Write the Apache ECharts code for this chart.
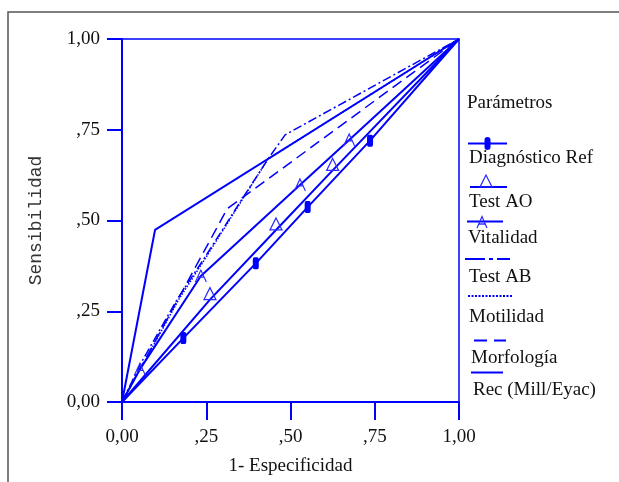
<!DOCTYPE html>
<html><head><meta charset="utf-8">
<script src="https://cdn.jsdelivr.net/npm/echarts@6/dist/echarts.min.js"></script>
<style>html,body{margin:0;padding:0;background:#fff}#c{width:619px;height:482px}</style>
</head><body><div id="c"></div>
<script>
// ---- data ----
const tickValues = [0, 0.25, 0.5, 0.75, 1];
const tickLabels = ['0,00', ',25', ',50', ',75', '1,00'];
const legendTitle = 'Parámetros';
const seriesNames = ['Diagnóstico Ref', 'Test AO', 'Vitalidad', 'Test AB', 'Motilidad', 'Morfología', 'Rec (Mill/Eyac)'];

const diagX = [0, 0.182, 0.397, 0.551, 0.736, 1];
const diagY = [0, 0.176, 0.382, 0.537, 0.720, 1];

const testAOX = [0, 0.261, 0.457, 0.625, 1];
const testAOY = [0, 0.282, 0.474, 0.638, 1];

const vitalX = [0, 0.053, 0.234, 0.528, 0.674, 1];
const vitalY = [0, 0.090, 0.347, 0.598, 0.722, 1];

const testABX = [0, 0.055, 0.165, 0.240, 0.350, 0.433, 0.484, 1];
const testABY = [0, 0.105, 0.285, 0.390, 0.550, 0.669, 0.736, 1];

const motilX = [0, 0.060, 0.170, 0.240, 0.350, 0.433, 1];
const motilY = [0, 0.100, 0.285, 0.385, 0.547, 0.669, 1];

const morfoX = [0, 0.312, 1];
const morfoY = [0, 0.532, 1];

const recX = [0, 0.098, 1];
const recY = [0, 0.474, 1];

// ---- chart ----
const BLUE = '#0000ff';
const MARK = '#2a2aff';
const FONT = 'Liberation Serif';

function pts(xs, ys, markEnds) {
  return xs.map((x, i) => {
    const item = { value: [x, ys[i]] };
    if (!markEnds && (i === 0 || i === xs.length - 1)) item.symbol = 'none';
    return item;
  });
}

const A_PATH = 'path://M0,12 L5,0 L10,12 M2,7 L8,7';

const series = [
  { name: seriesNames[0], type: 'line', data: pts(diagX, diagY),
    symbol: 'roundRect', symbolSize: [6, 12],
    itemStyle: { color: BLUE }, lineStyle: { color: BLUE, width: 2 }, z: 5 },
  { name: seriesNames[1], type: 'line', data: pts(testAOX, testAOY),
    symbol: 'triangle', symbolSize: [12, 12], symbolOffset: [0, -6],
    itemStyle: { color: 'rgba(255,255,255,0)', borderColor: MARK, borderWidth: 1.2 },
    lineStyle: { color: BLUE, width: 2 }, z: 5 },
  { name: seriesNames[2], type: 'line', data: pts(vitalX, vitalY),
    symbol: A_PATH, symbolSize: [11, 12],
    itemStyle: { color: 'rgba(255,255,255,0)', borderColor: MARK, borderWidth: 1.2 },
    lineStyle: { color: BLUE, width: 2 }, z: 5 },
  { name: seriesNames[3], type: 'line', data: pts(testABX, testABY, true), showSymbol: false,
    lineStyle: { color: BLUE, width: 1.5, type: [9, 3, 2, 3] }, z: 4 },
  { name: seriesNames[4], type: 'line', data: pts(motilX, motilY, true), showSymbol: false,
    lineStyle: { color: BLUE, width: 1.5, type: [1.5, 1.5] }, z: 4 },
  { name: seriesNames[5], type: 'line', data: pts(morfoX, morfoY, true), showSymbol: false,
    lineStyle: { color: BLUE, width: 1.5, type: [11, 6] }, z: 4 },
  { name: seriesNames[6], type: 'line', data: pts(recX, recY, true), showSymbol: false,
    lineStyle: { color: BLUE, width: 2 }, z: 5 }
];

// ---- legend (drawn as graphic) ----
const txt = (x, y, s) => ({ type: 'text', left: x, top: y - 11, style: { text: s, font: '19px "' + FONT + '"', fill: '#111' } });
const ln = (x1, x2, y, dash, w) => ({ type: 'line', shape: { x1: x1, y1: y, x2: x2, y2: y },
  style: { stroke: BLUE, lineWidth: w || 2, lineDash: dash || null } });

const graphic = [
  { type: 'rect', shape: { x: 8, y: 12, width: 700, height: 600 }, style: { fill: 'none', stroke: '#555', lineWidth: 1.5 } },
  txt(467, 105, legendTitle),
  ln(468, 507, 143.5),
  { type: 'rect', shape: { x: 484.5, y: 137, width: 6, height: 13, r: 3 }, style: { fill: BLUE } },
  txt(469, 160, seriesNames[0]),
  ln(470, 507, 187),
  { type: 'polygon', shape: { points: [[486, 175], [480, 187], [492, 187]] }, style: { fill: 'none', stroke: MARK, lineWidth: 1.2 } },
  txt(469, 204, seriesNames[1]),
  ln(467, 503, 221.5),
  { type: 'polyline', shape: { points: [[477, 228], [482, 216.5], [487, 228]] }, style: { fill: 'none', stroke: MARK, lineWidth: 1.2 } },
  ln(479, 485, 224, null, 1.2),
  txt(468, 240, seriesNames[2]),
  ln(465, 510, 259, [20, 4, 4, 4], 2),
  txt(469, 279, seriesNames[3]),
  ln(468, 512, 296, [2, 1.5], 2),
  txt(469, 319, seriesNames[4]),
  ln(474, 506, 340.5, [13, 7], 2),
  txt(471, 360, seriesNames[5]),
  ln(471, 503, 372.5),
  txt(473, 392, seriesNames[6])
];

const chart = echarts.init(document.getElementById('c'), null, { renderer: 'canvas' });
chart.setOption({
  animation: false,
  backgroundColor: '#fff',
  grid: { left: 122, right: 160, top: 39, bottom: 80, show: true, borderColor: BLUE, borderWidth: 1.5, backgroundColor: 'transparent' },
  xAxis: {
    type: 'value', min: 0, max: 1, interval: 0.25,
    name: '1- Especificidad', nameLocation: 'middle', nameGap: 55,
    nameTextStyle: { fontFamily: FONT, fontSize: 19, color: '#111' },
    axisLine: { show: true, onZero: false, lineStyle: { color: BLUE, width: 2 } },
    axisTick: { show: true, length: 18, lineStyle: { color: BLUE, width: 2 } },
    axisLabel: { margin: 26, fontFamily: FONT, fontSize: 19, color: '#111',
      formatter: v => tickLabels[tickValues.indexOf(v)] },
    splitLine: { show: false }
  },
  yAxis: {
    type: 'value', min: 0, max: 1, interval: 0.25,
    name: 'Sensibilidad', nameLocation: 'middle', nameGap: 77,
    nameTextStyle: { fontFamily: 'Liberation Mono', fontSize: 18, color: '#333' },
    axisLine: { show: true, onZero: false, lineStyle: { color: BLUE, width: 2 } },
    axisTick: { show: true, length: 15, lineStyle: { color: BLUE, width: 2 } },
    axisLabel: { margin: 22, fontFamily: FONT, fontSize: 19, color: '#111',
      formatter: v => tickLabels[tickValues.indexOf(v)] },
    splitLine: { show: false }
  },
  series: series,
  graphic: graphic
});
</script>
</body></html>
